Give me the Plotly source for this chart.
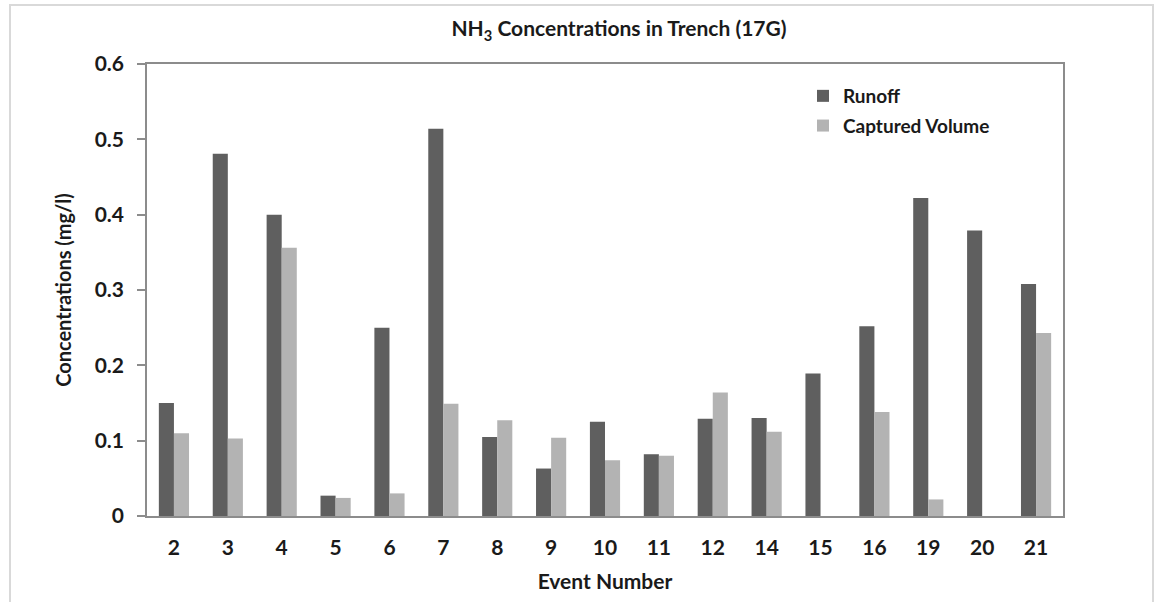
import plotly.graph_objects as go

events = ["2", "3", "4", "5", "6", "7", "8", "9", "10", "11", "12", "14", "15", "16", "19", "20", "21"]
runoff = [0.150, 0.481, 0.400, 0.027, 0.250, 0.514, 0.105, 0.063, 0.125, 0.082, 0.129, 0.130, 0.189, 0.252, 0.422, 0.379, 0.308]
captured = [0.110, 0.103, 0.356, 0.024, 0.030, 0.149, 0.127, 0.104, 0.074, 0.080, 0.164, 0.112, 0.0, 0.138, 0.022, 0.0, 0.243]
y_ticks = [0, 0.1, 0.2, 0.3, 0.4, 0.5, 0.6]
y_tick_text = ["0", "0.1", "0.2", "0.3", "0.4", "0.5", "0.6"]

FONT = "Lato, 'Open Sans', sans-serif"
TXT = "#1a1a1a"

fig = go.Figure()
fig.add_trace(go.Bar(x=events, y=runoff, name="<b>Runoff</b>", legendgroup="r",
                     marker=dict(color="#5f5f5f", line=dict(width=0))))
fig.add_trace(go.Bar(x=events, y=captured, name="<b>Captured Volume</b>", legendgroup="c",
                     marker=dict(color="#b3b3b3", line=dict(width=0))))

ML, MR, MT, MB = 147, 95, 64, 86
W, H = 1158, 602
pw, ph = W - ML - MR, H - MT - MB

fig.update_layout(
    width=W, height=H,
    margin=dict(l=ML, r=MR, t=MT, b=MB),
    paper_bgcolor="white", plot_bgcolor="white",
    barmode="group", bargap=0.44, bargroupgap=0.0,
    font=dict(family=FONT, color=TXT),
    title=dict(text="<b>NH<sub>3</sub> Concentrations in Trench (17G)</b>",
               x=619 / W, xanchor="center", y=1 - 29 / H, yanchor="middle",
               font=dict(size=21, family=FONT, color=TXT)),
    showlegend=True,
    legend=dict(x=(803 - ML) / pw, y=(516 - 77) / ph, xanchor="left", yanchor="top",
                bgcolor="rgba(0,0,0,0)", font=dict(size=19, family=FONT, color=TXT),
                traceorder="grouped", tracegroupgap=2),
    xaxis=dict(type="category", showline=True, linecolor="#8c8c8c", linewidth=1.5,
               mirror=True, ticks="", showgrid=False,
               tickvals=events, ticktext=["<b>%s</b>" % e for e in events],
               tickfont=dict(size=21, family=FONT, color=TXT), ticklabelstandoff=12,
               title=dict(text="<b>Event Number</b>", font=dict(size=21, family=FONT, color=TXT), standoff=16)),
    yaxis=dict(range=[0, 0.6], tickvals=y_ticks, ticktext=["<b>%s</b>" % t for t in y_tick_text],
               showline=True, linecolor="#8c8c8c", linewidth=1.5, mirror=True,
               ticks="outside", ticklen=8, tickcolor="#8c8c8c", tickwidth=1.5,
               showgrid=False, zeroline=False, ticklabelstandoff=9,
               tickfont=dict(size=21, family=FONT, color=TXT),
               title=dict(text="<b>Concentrations (mg/l)</b>", font=dict(size=20, family=FONT, color=TXT), standoff=18)),
)

# outer chart-area border
fig.add_shape(type="rect", xref="paper", yref="paper",
              x0=(10 - ML) / pw, x1=(1153 - ML) / pw,
              y0=(516 - 640) / ph, y1=(516 - 5) / ph,
              line=dict(color="#d9d9d9", width=2), fillcolor="rgba(0,0,0,0)", layer="below")

fig.write_html("out.html", config={"displayModeBar": False},
               post_script="document.body.style.margin='0px';")
